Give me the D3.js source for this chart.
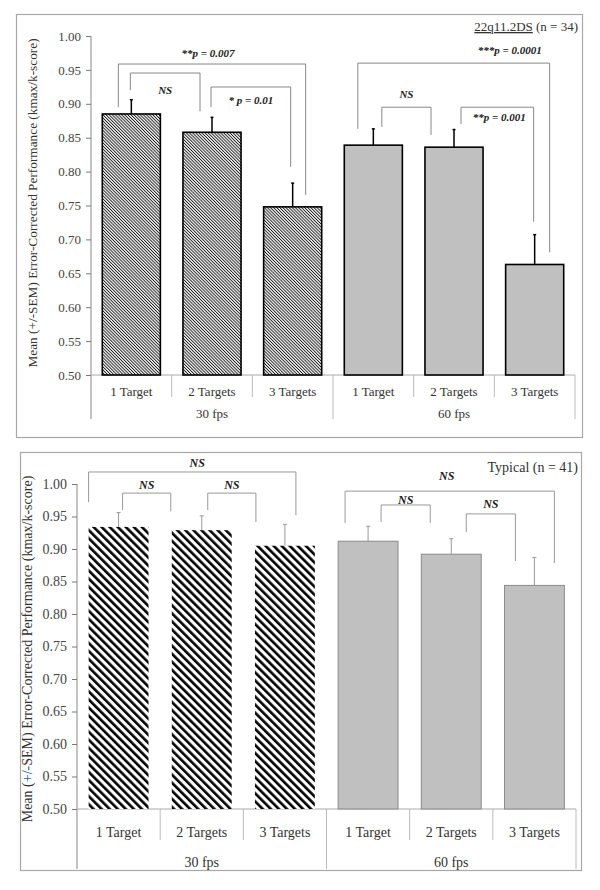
<!DOCTYPE html>
<html><head><meta charset="utf-8">
<script src="https://cdn.jsdelivr.net/npm/d3@7"></script>
<style>body{margin:0;background:#fff}svg{display:block}text{font-family:"Liberation Serif","DejaVu Serif",serif}</style>
</head><body>
<svg id="chart" width="600" height="890"></svg>
<script>
// ---- data ----
const categories = ["1 Target","2 Targets","3 Targets","1 Target","2 Targets","3 Targets"];
const groups = ["30 fps","60 fps"];
const yTicks = [0.50,0.55,0.60,0.65,0.70,0.75,0.80,0.85,0.90,0.95,1.00];
const dsMeans = [0.885,0.858,0.748,0.839,0.836,0.663];
const dsSem   = [0.021,0.022,0.035,0.024,0.026,0.044];
const typMeans = [0.934,0.929,0.905,0.912,0.892,0.844];
const typSem   = [0.022,0.022,0.033,0.023,0.024,0.043];
const yLabel = ["Mean (", "+/-", "SEM) Error-Corrected Performance (kmax/k-score)"];
// comparisons: bars a,b ; label ; level / leg ends in data units
const dsComparisons = [
  {a:0,b:2,label:"**p = 0.007",level:0.9587,endA:0.895,endB:0.7655,dxA:-13,dxB:13,lx:-4,lv:0.975},
  {a:0,b:1,label:"NS",level:0.9454,endA:0.920,endB:0.889,dxA:-1,dxB:-12,lx:0,lv:0.921},
  {a:1,b:2,label:"* p = 0.01",level:0.9248,endA:0.895,endB:0.807,dxA:-1,dxB:-2,lx:0,lv:0.905},
  {a:3,b:5,label:"***p = 0.0001",level:0.960,endA:0.863,endB:0.681,dxA:-15.5,dxB:15,lx:56,lv:0.979},
  {a:3,b:4,label:"NS",level:0.895,endA:0.866,endB:0.854,dxA:8.5,dxB:-23,lx:0,lv:0.914},
  {a:4,b:5,label:"**p = 0.001",level:0.895,endA:0.870,endB:0.726,dxA:7,dxB:-1,lx:2,lv:0.880}
];
const typComparisons = [
  {a:0,b:2,label:"NS",level:1.0185,endA:0.972,endB:0.952,dxA:-30,dxB:11,lx:5,lv:1.032},
  {a:0,b:1,label:"NS",level:0.986,endA:0.960,endB:0.958,dxA:4,dxB:-31,lx:0,lv:0.998},
  {a:1,b:2,label:"NS",level:0.986,endA:0.960,endB:0.9415,dxA:6,dxB:-29,lx:0,lv:0.998},
  {a:3,b:5,label:"NS",level:0.989,endA:0.940,endB:0.8785,dxA:-23,dxB:20,lx:-3,lv:1.013},
  {a:3,b:4,label:"NS",level:0.9677,endA:0.9415,endB:0.940,dxA:13,dxB:-21,lx:0,lv:0.976},
  {a:4,b:5,label:"NS",level:0.954,endA:0.926,endB:0.8815,dxA:15,dxB:-19,lx:0,lv:0.970}
];

const svg = d3.select("#chart");
const defs = svg.append("defs");
// fine hatch (top)
const p1 = defs.append("pattern").attr("id","hatchFine").attr("patternUnits","userSpaceOnUse")
  .attr("width",2.2).attr("height",10).attr("patternTransform","rotate(-45)");
p1.append("rect").attr("width",2.2).attr("height",10).attr("fill","#eeeeee");
p1.append("rect").attr("width",0.85).attr("height",10).attr("fill","#1a1a1a");
// bold stripes (bottom)
const p2 = defs.append("pattern").attr("id","hatchBold").attr("patternUnits","userSpaceOnUse")
  .attr("width",5.7).attr("height",10).attr("patternTransform","rotate(-45)");
p2.append("rect").attr("width",5.7).attr("height",10).attr("fill","#fff");
p2.append("rect").attr("width",2.6).attr("height",10).attr("fill","#000");

function drawPanel(cfg){
  const g = svg.append("g");
  g.append("rect").attr("x",cfg.frame[0]+0.5).attr("y",cfg.frame[1]+0.5)
    .attr("width",cfg.frame[2]).attr("height",cfg.frame[3])
    .attr("fill","#fff").attr("stroke","#a8a8a8").attr("stroke-width",1.2);

  const y = d3.scaleLinear().domain([0.5,1.0]).range([cfg.y0,cfg.y1]);
  const x = d3.scaleBand().domain(d3.range(categories.length)).range([cfg.x0,cfg.x1])
    .paddingInner(0.28).paddingOuter(0.14);
  const step = x.step();

  // y axis
  const yAxis = d3.axisLeft(y).tickValues(yTicks).tickFormat(d3.format(".2f")).tickSize(5).tickSizeOuter(0);
  const ga = g.append("g").attr("transform",`translate(${cfg.x0},0)`).call(yAxis)
    .attr("font-family",null);
  ga.select(".domain").remove();
  ga.selectAll(".tick line").attr("stroke","#777");
  ga.selectAll(".tick text").attr("font-size",cfg.fs).attr("fill","#444").attr("x",-10);
  // axis lines
  g.append("line").attr("x1",cfg.x0).attr("x2",cfg.x0).attr("y1",cfg.y1).attr("y2",cfg.sepLong)
    .attr("stroke","#888");
  g.append("line").attr("x1",cfg.x0).attr("x2",cfg.x1).attr("y1",cfg.y0).attr("y2",cfg.y0)
    .attr("stroke","#aaa");
  // separators
  d3.range(1,categories.length+1).forEach(i=>{
    const xx = cfg.x0 + i*step;
    const long = (i % 3 === 0);
    g.append("line").attr("x1",xx).attr("x2",xx).attr("y1",cfg.y0)
      .attr("y2",long?cfg.sepLong:cfg.sepShort).attr("stroke","#bbb");
  });
  // category labels
  g.selectAll(".cat").data(categories).enter().append("text")
    .attr("x",(d,i)=>x(i)+x.bandwidth()/2).attr("y",cfg.catY)
    .attr("text-anchor","middle").attr("font-size",cfg.fs).attr("fill","#333").text(d=>d);
  g.selectAll(".grp").data(groups).enter().append("text")
    .attr("x",(d,i)=>cfg.x0 + (i*3+1.5)*step).attr("y",cfg.grpY)
    .attr("text-anchor","middle").attr("font-size",cfg.fs).attr("fill","#333").text(d=>d);

  // bars
  g.selectAll(".bar").data(cfg.means).enter().append("rect")
    .attr("x",(d,i)=>x(i)).attr("width",x.bandwidth())
    .attr("y",d=>y(d)).attr("height",d=>y(0.5)-y(d))
    .attr("fill",(d,i)=> i<3 ? cfg.hatch : "#c0c0c0")
    .attr("stroke",(d,i)=> i<3 ? cfg.hatchStroke : cfg.greyStroke)
    .attr("stroke-width",cfg.barSW);
  // error bars
  cfg.means.forEach((m,i)=>{
    const cx = x(i)+x.bandwidth()/2;
    g.append("line").attr("x1",cx).attr("x2",cx).attr("y1",y(m)).attr("y2",y(m+cfg.sem[i]))
      .attr("stroke",cfg.errColor).attr("stroke-width",cfg.errSW);
    g.append("line").attr("x1",cx-cfg.cap).attr("x2",cx+cfg.cap)
      .attr("y1",y(m+cfg.sem[i])).attr("y2",y(m+cfg.sem[i]))
      .attr("stroke",cfg.errColor).attr("stroke-width",cfg.errSW);
  });
  // brackets
  cfg.comps.forEach(c=>{
    const xa = x(c.a)+x.bandwidth()/2 + c.dxA;
    const xb = x(c.b)+x.bandwidth()/2 + c.dxB;
    g.append("path").attr("d",`M${xa},${y(c.endA)}V${y(c.level)}H${xb}V${y(c.endB)}`)
      .attr("fill","none").attr("stroke",cfg.brColor).attr("stroke-width",1);
    g.append("text").attr("x",(xa+xb)/2 + c.lx).attr("y",y(c.lv))
      .attr("text-anchor","middle").attr("dominant-baseline","central")
      .attr("font-size",cfg.sigFs).attr("font-weight","bold").attr("font-style","italic")
      .attr("fill","#222").text(c.label);
  });
  // y label
  const yl = g.append("text").attr("transform",`translate(${cfg.ylX},${cfg.ylY}) rotate(-90)`)
    .attr("text-anchor","middle").attr("font-size",cfg.ylFs).attr("fill","#333");
  yl.append("tspan").text(yLabel[0]);
  yl.append("tspan").attr("fill",cfg.plusColor).text(yLabel[1]);
  yl.append("tspan").text(yLabel[2]);
  // title
  const t = g.append("text").attr("x",578).attr("y",cfg.titleY).attr("text-anchor","end")
    .attr("font-size",cfg.titleFs).attr("fill","#333");
  cfg.title(t);
}

drawPanel({
  frame:[16,14,566,423], x0:91, x1:575, y0:375, y1:36, sepShort:397, sepLong:419,
  catY:395.5, grpY:417.5, fs:13, means:dsMeans, sem:dsSem, comps:dsComparisons,
  hatch:"url(#hatchFine)", hatchStroke:"#000", greyStroke:"#000", barSW:1.6,
  errColor:"#000", errSW:1.5, cap:1.5, brColor:"#888", sigFs:11,
  ylX:37, ylY:203, ylFs:13.3, plusColor:"#333", titleY:31, titleFs:13,
  title:t=>{ t.append("tspan").attr("text-decoration","underline").text("22q11.2DS");
             t.append("tspan").text(" (n = 34)"); }
});
drawPanel({
  frame:[20,452,561,418], x0:77, x1:576, y0:809, y1:484, sepShort:840, sepLong:869,
  catY:837, grpY:867, fs:14, means:typMeans, sem:typSem, comps:typComparisons,
  hatch:"url(#hatchBold)", hatchStroke:"none", greyStroke:"#8a8a8a", barSW:1,
  errColor:"#999", errSW:1, cap:2, brColor:"#999", sigFs:12,
  ylX:32, ylY:649, ylFs:14, plusColor:"#2a62b0", titleY:472, titleFs:14,
  title:t=>{ t.text("Typical (n = 41)"); }
});
</script>
</body></html>
